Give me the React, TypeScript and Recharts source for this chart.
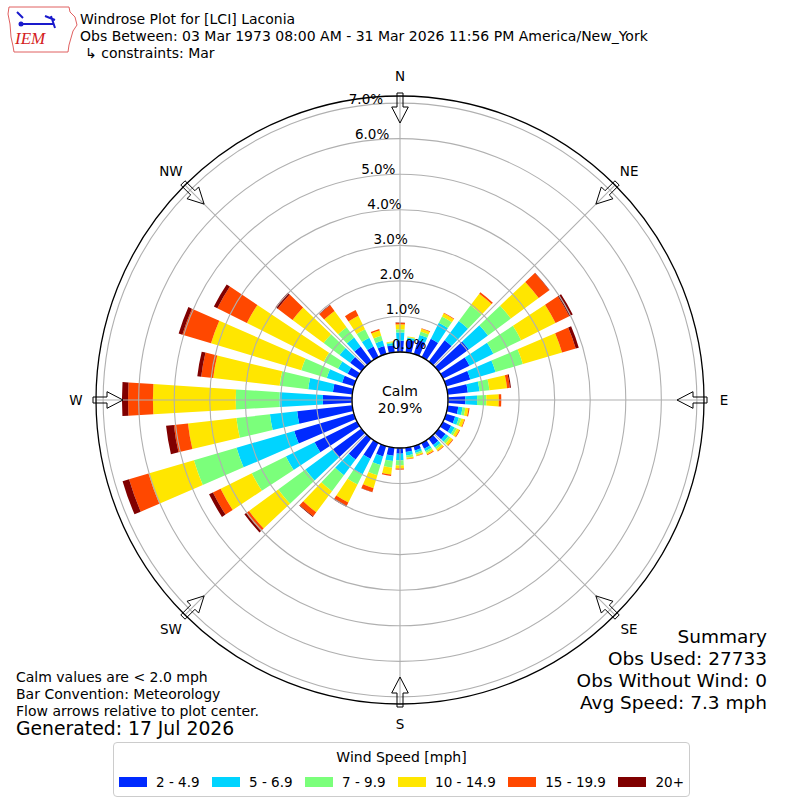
import React from 'react'
import {
  RadialBarChart, RadialBar, PolarAngleAxis, PolarRadiusAxis, PolarGrid,
} from 'recharts'

// wind direction bins (deg, meteorological), 10 degree sectors
const dirs = [0, 10, 20, 30, 40, 50, 60, 70, 80, 90, 100, 110, 120, 130, 140, 150, 160, 170,
  180, 190, 200, 210, 220, 230, 240, 250, 260, 270, 280, 290, 300, 310, 320, 330, 340, 350]

// percent of obs per speed class (mph)
const mph2to5 = [0.32, 0.35, 0.41, 0.58, 0.75, 1.05, 0.83, 0.71, 0.57, 0.49, 0.30, 0.27, 0.26, 0.25, 0.22, 0.18, 0.13, 0.12,
  0.16, 0.23, 0.31, 0.50, 0.74, 1.00, 1.33, 1.75, 1.56, 0.82, 0.55, 0.35, 0.30, 0.40, 0.52, 0.33, 0.23, 0.20]
const mph5to7 = [0.23, 0.06, 0.15, 0.50, 0.67, 0.67, 0.75, 0.74, 0.33, 0.33, 0.12, 0.11, 0.11, 0.10, 0.09, 0.08, 0.07, 0.10,
  0.19, 0.15, 0.25, 0.49, 0.55, 0.95, 0.90, 1.69, 0.77, 1.22, 0.70, 0.45, 0.30, 0.37, 0.31, 0.27, 0.16, 0.06]
const mph7to10 = [0.09, 0.02, 0.10, 0.20, 0.55, 0.80, 0.87, 0.80, 0.28, 0.26, 0.08, 0.07, 0.07, 0.07, 0.06, 0.05, 0.05, 0.06,
  0.14, 0.19, 0.30, 0.32, 0.56, 0.95, 1.07, 1.25, 0.95, 1.23, 0.81, 0.75, 0.45, 0.56, 0.36, 0.27, 0.14, 0.03]
const mph10to15 = [0.14, 0.02, 0.08, 0.10, 0.41, 0.97, 1.08, 1.15, 0.50, 0.35, 0.09, 0.09, 0.08, 0.08, 0.06, 0.05, 0.04, 0.04,
  0.09, 0.19, 0.38, 0.57, 0.74, 1.02, 0.98, 1.33, 1.37, 2.33, 1.88, 2.65, 2.42, 1.09, 0.57, 0.42, 0.16, 0.02]
const mph15to20 = [0.04, 0.00, 0.02, 0.02, 0.05, 0.37, 0.43, 0.40, 0.08, 0.07, 0.03, 0.02, 0.02, 0.02, 0.02, 0.02, 0.01, 0.01,
  0.03, 0.04, 0.11, 0.10, 0.14, 0.10, 0.24, 0.57, 0.40, 0.70, 0.34, 0.84, 0.93, 0.52, 0.20, 0.18, 0.04, 0.00]
const mph20up = [0.01, 0, 0, 0, 0, 0.01, 0.11, 0.09, 0.03, 0, 0, 0, 0, 0, 0, 0, 0, 0,
  0, 0, 0.01, 0.03, 0.02, 0.06, 0.12, 0.19, 0.22, 0.17, 0.11, 0.11, 0.11, 0.08, 0.01, 0, 0, 0]

const speedLabels = ['2 - 4.9', '5 - 6.9', '7 - 9.9', '10 - 14.9', '15 - 19.9', '20+']
const speedColors = ['#002aff', '#00d4ff', '#7bff7b', '#ffe600', '#ff4800', '#800000']
const speedSeries = [mph2to5, mph5to7, mph7to10, mph10to15, mph15to20, mph20up]

const radiusTicks = [0, 1, 2, 3, 4, 5, 6, 7]
const compassTicks = [0, 45, 90, 135, 180, 225, 270, 315]
const compassNames = ['N', 'NE', 'E', 'SE', 'S', 'SW', 'W', 'NW']

const rows = dirs.map((d, i) => {
  const row: Record<string, number> = { dir: d }
  speedSeries.forEach((s, k) => { row['s' + k] = s[i] })
  return row
})

const FONT = '"DejaVu Sans", sans-serif'
const CX = 400
const CY = 400
const RAD = Math.PI / 180

// compass bearing -> recharts polar angle (0 = east, counter-clockwise)
const toPolar = (bearing: number) => 90 - bearing
const polar = (r: number, a: number) => ({ x: CX + r * Math.cos(a * RAD), y: CY - r * Math.sin(a * RAD) })

function CompassMark({ bearing, name }: { bearing: number; name: string }) {
  const a = toPolar(bearing)
  const lbl = polar(324, a)
  const pt = (r: number, off: number) => {
    const c = polar(r, a)
    return `${c.x + off * Math.sin(a * RAD)},${c.y + off * Math.cos(a * RAD)}`
  }
  const arrow = [pt(307, -3), pt(293, -3), pt(293, -8.3), pt(277, 0), pt(293, 8.3), pt(293, 3), pt(307, 3)].join(' ')
  return (
    <g>
      <polygon points={arrow} fill="none" stroke="#000" strokeWidth={1} />
      <text x={lbl.x} y={lbl.y} textAnchor="middle" dominantBaseline="central" fontFamily={FONT} fontSize={13.5} fill="#000">
        {name}
      </text>
    </g>
  )
}

function RadiusTick(props: any) {
  return (
    <text x={props.x + 17.5} y={props.y - 8.3} textAnchor="middle" dominantBaseline="central" fontFamily={FONT} fontSize={13.5} fill="#000">
      {Number(props.payload.value).toFixed(1)}%
    </text>
  )
}

function Logo() {
  return (
    <svg width={80} height={56} style={{ position: 'absolute', left: 3, top: 2 }}>
      <path d="M6 5 L66 5 L67 10 L72 15 L74 23 L70 29 L68 36 L66 43 L65 50 L11 50 L10 44 L8 35 L7 22 L5 12 Z"
        fill="none" stroke="#e06060" strokeWidth={1} />
      <line x1={18} y1={22} x2={50} y2={22} stroke="#1a1acc" strokeWidth={2} />
      <circle cx={18} cy={22} r={2.5} fill="#1a1acc" />
      <path d="M14 10 L20 16 M48 14 L52 26 M42 14 L52 18" stroke="#1a1acc" strokeWidth={2} fill="none" />
      <text x={12} y={42} fontFamily='"Liberation Serif", serif' fontStyle="italic" fontSize={17} fill="#d42020">IEM</text>
    </svg>
  )
}

function SpeedLegend() {
  return (
    <div style={{
      position: 'absolute', left: 113, top: 742, width: 577, height: 55, boxSizing: 'border-box',
      border: '1px solid #cccccc', borderRadius: 4, background: '#fff', fontFamily: FONT,
    }}>
      <div style={{ position: 'absolute', top: 5, left: 0, right: 0, textAlign: 'center', fontSize: 14, lineHeight: '18px' }}>
        Wind Speed [mph]
      </div>
      <div style={{ position: 'absolute', top: 30, left: 5, width: 600, display: 'flex', alignItems: 'center', height: 18, whiteSpace: 'nowrap' }}>
        {speedLabels.map((l, k) => (
          <div key={l} style={{ display: 'flex', alignItems: 'center', marginRight: 12.5, flexShrink: 0 }}>
            <div style={{ width: 28, height: 10, background: speedColors[k], marginRight: 9 }} />
            <span style={{ fontSize: 13.5, lineHeight: '18px' }}>{l}</span>
          </div>
        ))}
      </div>
    </div>
  )
}

export default function App() {
  return (
    <div style={{ position: 'absolute', left: 0, top: 0, width: 800, height: 800, background: '#fff', fontFamily: FONT }}>
      <RadialBarChart
        width={800} height={800} cx={CX} cy={CY} innerRadius={48} outerRadius={304}
        startAngle={85} endAngle={-275} layout="centric" data={rows}
        margin={{ top: 0, right: 0, bottom: 0, left: 0 }} barCategoryGap="13%" barGap={0}
      >
        <PolarAngleAxis dataKey="dir" type="category" tick={false} axisLine={false} tickLine={false} />
        <PolarRadiusAxis radiusAxisId="frame" type="number" domain={[0, 7.2]} ticks={[0, 7.2]}
          tick={false} axisLine={false} tickLine={false} allowDataOverflow />
        {speedLabels.map((l, k) => (
          <RadialBar key={l} dataKey={'s' + k} name={l} stackId="rose" fill={speedColors[k]} isAnimationActive={false} />
        ))}
        <PolarGrid polarAngles={compassTicks.map(toPolar)} gridType="circle" stroke="#b0b0b0" strokeWidth={1.1} zIndex={350} />
        <PolarGrid radiusAxisId="frame" gridType="circle" radialLines={false} stroke="#000" strokeWidth={1.3} zIndex={360} />
        <PolarRadiusAxis type="number" domain={[0, 7.2]} ticks={radiusTicks} angle={100}
          axisLine={false} tickLine={false} tick={RadiusTick} allowDataOverflow zIndex={600} />
      </RadialBarChart>

      <svg width={800} height={800} style={{ position: 'absolute', left: 0, top: 0, pointerEvents: 'none' }}>
        {compassTicks.map((b, i) => <CompassMark key={b} bearing={b} name={compassNames[i]} />)}
        <g fontFamily={FONT} fill="#000">
          <text x={80} y={24} fontSize={14}>Windrose Plot for [LCI] Laconia</text>
          <text x={80} y={41} fontSize={14}>Obs Between: 03 Mar 1973 08:00 AM - 31 Mar 2026 11:56 PM America/New_York</text>
          <text x={85} y={58} fontSize={14}>↳ constraints: Mar</text>

          <text x={400} y={396} fontSize={14} textAnchor="middle">Calm</text>
          <text x={400} y={413} fontSize={14} textAnchor="middle">20.9%</text>

          <text x={16} y={682} fontSize={14}>Calm values are &lt; 2.0 mph</text>
          <text x={16} y={699} fontSize={14}>Bar Convention: Meteorology</text>
          <text x={16} y={716} fontSize={14}>Flow arrows relative to plot center.</text>
          <text x={16} y={735} fontSize={18.8}>Generated: 17 Jul 2026</text>

          <text x={767} y={643} fontSize={18.5} textAnchor="end">Summary</text>
          <text x={767} y={665} fontSize={18.5} textAnchor="end">Obs Used: 27733</text>
          <text x={767} y={687} fontSize={18.5} textAnchor="end">Obs Without Wind: 0</text>
          <text x={767} y={709} fontSize={18.5} textAnchor="end">Avg Speed: 7.3 mph</text>
        </g>
      </svg>
      <Logo />
      <SpeedLegend />
    </div>
  )
}
